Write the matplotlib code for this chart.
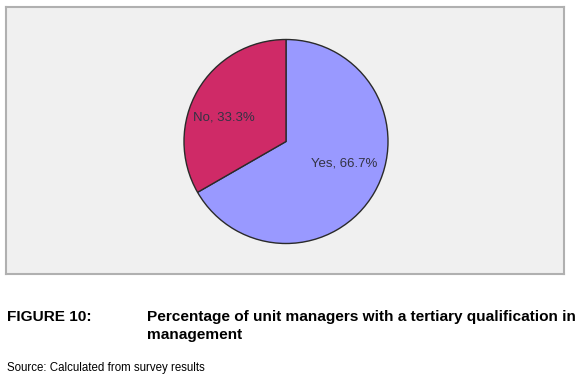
import matplotlib
matplotlib.use("Agg")
import matplotlib.pyplot as plt
from matplotlib import font_manager

categories = ["Yes", "No"]
values = [66.7, 33.3]
colors = ["#9999FF", "#CF2A67"]
title_label = "FIGURE 10:"
title_text = ["Percentage of unit managers with a tertiary qualification in", "management"]
source_text = "Source: Calculated from survey results"

W, H = 580, 379
fig = plt.figure(figsize=(W / 100, H / 100), dpi=100, facecolor="white")

def fx(px):
    return px / W

def fy(py):
    return 1 - py / H

# panel axes (pixel box 6..564 x 7..274)
ax = fig.add_axes([fx(6), fy(274), (564 - 6) / W, (274 - 7) / H])
ax.pie(values, colors=colors, startangle=90, counterclock=False,
       wedgeprops=dict(edgecolor="#2a2a2a", linewidth=1.0))
R = 102.0
cx, cy = 286.0, 141.5
ax.set_xlim((6 - cx) / R, (564 - cx) / R)
ax.set_ylim(-(274 - cy) / R, (cy - 7) / R)
ax.set_aspect("auto")
ax.set_frame_on(True)
ax.set_facecolor("#F0F0F0")
for s in ax.spines.values():
    s.set_color("#B0B0B0")
    s.set_linewidth(1.5)
ax.set_xticks([])
ax.set_yticks([])

label_pos = {"Yes": (0.57, -0.22), "No": (-0.61, 0.24)}
for cat, v in zip(categories, values):
    x, y = label_pos[cat]
    ax.text(x, y, f"{cat}, {v:.1f}%", ha="center", va="center",
            fontsize=9.5, color="#333344", family="Liberation Sans")

names = {f.name for f in font_manager.fontManager.ttflist}
if "Liberation Sans Narrow" in names:
    src_font, src_size = "Liberation Sans Narrow", 9.5
else:
    src_font, src_size = "Liberation Sans", 8.3

fig.text(fx(7), fy(317), title_label, ha="left", va="center", fontsize=11.1,
         fontweight="bold", family="Liberation Sans", color="black")
fig.text(fx(147), fy(317), title_text[0], ha="left", va="center", fontsize=11.1,
         fontweight="bold", family="Liberation Sans", color="black")
fig.text(fx(147), fy(335), title_text[1], ha="left", va="center", fontsize=11.1,
         fontweight="bold", family="Liberation Sans", color="black")
fig.text(fx(7), fy(368), source_text, ha="left", va="center", fontsize=src_size,
         family=src_font, color="black")

fig.savefig("out.png", dpi=100, facecolor="white")
